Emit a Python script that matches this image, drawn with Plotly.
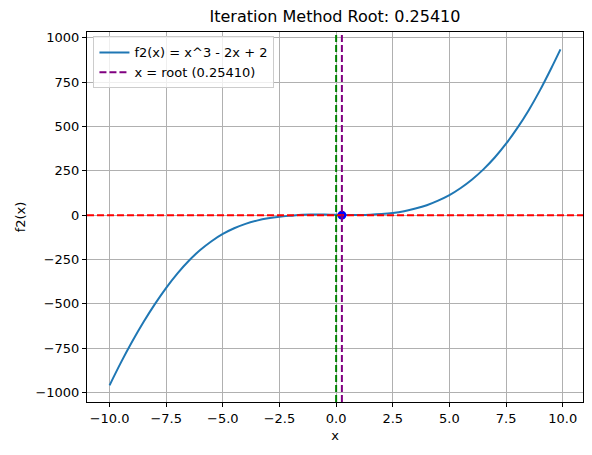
import plotly.graph_objects as go

# values
x_vals = [-10, -9.5, -9, -8.5, -8, -7.5, -7, -6.5, -6, -5.5, -5, -4.5, -4, -3.5, -3,
          -2.5, -2, -1.5, -1, -0.5, 0, 0.5, 1, 1.5, 2, 2.5, 3, 3.5, 4, 4.5, 5,
          5.5, 6, 6.5, 7, 7.5, 8, 8.5, 9, 9.5, 9.9]
y_vals = [-960, -832, -713, -603, -502, -410, -328, -257, -197, -147, -106, -74, -49, -31, -18,
          -9, -3, 2, 3, 3, 2, 1, 1, 2.4, 6, 12, 22, 37, 56, 82, 113,
          153, 201, 258, 325, 403, 492, 592, 705, 830, 935]
root_x = 0.2541
root_y = 0
x_ticks = [-10.0, -7.5, -5.0, -2.5, 0.0, 2.5, 5.0, 7.5, 10.0]
y_ticks = [-1000, -750, -500, -250, 0, 250, 500, 750, 1000]

font = "DejaVu Sans"
MINUS = "\u2212"
fig = go.Figure()

fig.add_trace(go.Scatter(x=x_vals, y=y_vals, mode="lines", line=dict(color="#1f77b4", width=2, shape="spline"),
                         name="f2(x) = x^3 - 2x + 2"))
fig.add_hline(y=0, line=dict(color="red", width=2, dash="7px,3px"))
fig.add_vline(x=0, line=dict(color="green", width=2, dash="7px,3px"))
fig.add_vline(x=root_x, line=dict(color="purple", width=2, dash="7px,3px"),
              showlegend=True, name=f"x = root ({root_x:.5f})")
fig.add_trace(go.Scatter(x=[root_x], y=[root_y], mode="markers", marker=dict(color="blue", size=9),
                         showlegend=False))

axis = dict(showline=True, linecolor="black", linewidth=1, mirror=True, ticks="outside", ticklen=4,
            tickcolor="black", showgrid=True, gridcolor="#b0b0b0", gridwidth=1, zeroline=False,
            tickfont=dict(family=font, size=13, color="black"))

# page has an 8px body margin, so the figure is drawn 8px smaller
W, H = 584, 447
L, R, T, B = 79, 9, 24, 53

fig.update_layout(
    width=W, height=H,
    margin=dict(l=L, r=R, t=T, b=B),
    plot_bgcolor="white", paper_bgcolor="white",
    title=dict(text=f"Iteration Method Root: {root_x:.5f}", x=(L + W - R) / 2 / W, xanchor="center",
               y=1 - 8 / H, yanchor="middle", font=dict(family=font, size=16, color="black")),
    xaxis=dict(axis, range=[-10.995, 10.895], tickvals=x_ticks,
               ticktext=[f"{t:.1f}".replace("-", MINUS) for t in x_ticks],
               title=dict(text="x", font=dict(family=font, size=13, color="black"), standoff=6)),
    yaxis=dict(axis, range=[-1054, 1033], tickvals=y_ticks,
               ticktext=[str(t).replace("-", MINUS) for t in y_ticks],
               title=dict(text="f2(x)", font=dict(family=font, size=13, color="black"), standoff=6)),
    legend=dict(x=0.013, y=0.988, xanchor="left", yanchor="top", bgcolor="rgba(255,255,255,0.8)",
                bordercolor="#cccccc", borderwidth=1, font=dict(family=font, size=13, color="black"),
                tracegroupgap=0),
    showlegend=True,
)

fig.write_html("out.html")
